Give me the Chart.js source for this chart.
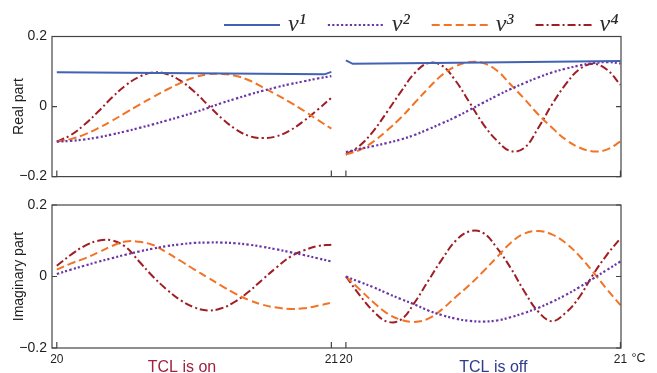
<!DOCTYPE html>
<html>
<head>
<meta charset="utf-8">
<script src="https://cdn.jsdelivr.net/npm/chart.js@4"></script>
<style>
  body { margin: 0; background: #fff; }
  .wrap { position: relative; width: 657px; height: 373px; }
  .row { position: absolute; left: 0; width: 657px; }
</style>
</head>
<body>
<div class="wrap">
  <div class="row" style="top:0;height:190px"><canvas id="realChart"></canvas></div>
  <div class="row" style="top:190px;height:183px"><canvas id="imagChart"></canvas></div>
</div>
<script>
// ---- data ----
const temps = [20.00, 20.05, 20.10, 20.15, 20.20, 20.25, 20.30, 20.35, 20.40, 20.45, 20.50,
               20.55, 20.60, 20.65, 20.70, 20.75, 20.80, 20.85, 20.90, 20.95, 21.00];

const seriesNames = ['v¹', 'v²', 'v³', 'v⁴'];
const panelNames = ['TCL is on', 'TCL is off'];
const rowTitles = ['Real part', 'Imaginary part'];
const yTicks = [-0.2, 0, 0.2];
const xTickTemps = [20, 21];

// real part, TCL on
const realOnV1T = [20, 20.5, 20.975, 21];
const realOnV1 = [0.098, 0.095, 0.092, 0.099];
const realOnV2 = [-0.100, -0.098, -0.094, -0.088, -0.080, -0.071, -0.061, -0.051, -0.040, -0.029, -0.017,
                  -0.004, 0.010, 0.022, 0.034, 0.045, 0.055, 0.064, 0.072, 0.080, 0.087];
const realOnV3 = [-0.100, -0.093, -0.080, -0.062, -0.041, -0.018, 0.005, 0.027, 0.048, 0.067, 0.083,
                  0.092, 0.093, 0.088, 0.075, 0.055, 0.034, 0.012, -0.012, -0.038, -0.063];
const realOnV4 = [-0.100, -0.082, -0.052, -0.015, 0.025, 0.060, 0.085, 0.097, 0.093, 0.074, 0.043,
                  0.005, -0.033, -0.064, -0.084, -0.090, -0.085, -0.068, -0.041, -0.009, 0.025];

// real part, TCL off
const realOffV1T = [20, 20.025, 20.5, 21];
const realOffV1 = [0.132, 0.122, 0.126, 0.130];
const realOffV2 = [-0.130, -0.121, -0.113, -0.104, -0.094, -0.081, -0.065, -0.048, -0.030, -0.010, 0.011,
                   0.031, 0.050, 0.067, 0.083, 0.097, 0.108, 0.117, 0.124, 0.127, 0.123];
const realOffV3 = [-0.137, -0.124, -0.100, -0.068, -0.032, 0.010, 0.052, 0.090, 0.115, 0.127, 0.124,
                   0.103, 0.063, 0.022, -0.022, -0.060, -0.094, -0.117, -0.128, -0.123, -0.100];
const realOffV4 = [-0.137, -0.112, -0.070, -0.015, 0.042, 0.095, 0.124, 0.117, 0.073, 0.012, -0.050,
                   -0.097, -0.127, -0.118, -0.062, 0.005, 0.063, 0.106, 0.122, 0.106, 0.062];

// imaginary part, TCL on
const imagOnV2 = [0.007, 0.019, 0.030, 0.041, 0.051, 0.061, 0.070, 0.078, 0.085, 0.090, 0.094,
                  0.095, 0.095, 0.093, 0.089, 0.083, 0.076, 0.068, 0.060, 0.051, 0.042];
const imagOnV3 = [0.019, 0.036, 0.050, 0.067, 0.085, 0.098, 0.097, 0.088, 0.067, 0.044, 0.020,
                  -0.003, -0.026, -0.048, -0.066, -0.079, -0.087, -0.091, -0.089, -0.082, -0.073];
const imagOnV4 = [0.030, 0.060, 0.085, 0.100, 0.101, 0.083, 0.042, 0.000, -0.036, -0.066, -0.086,
                  -0.095, -0.089, -0.070, -0.042, -0.008, 0.025, 0.055, 0.073, 0.085, 0.089];

// imaginary part, TCL off
const imagOffV2 = [0.000, -0.015, -0.030, -0.047, -0.063, -0.078, -0.095, -0.108, -0.118, -0.124, -0.126,
                   -0.123, -0.114, -0.102, -0.088, -0.071, -0.052, -0.030, -0.006, 0.018, 0.042];
const imagOffV3 = [0.000, -0.036, -0.072, -0.103, -0.121, -0.127, -0.118, -0.092, -0.057, -0.024, 0.014,
                   0.054, 0.094, 0.120, 0.127, 0.118, 0.094, 0.058, 0.013, -0.035, -0.080];
const imagOffV4 = [0.000, -0.052, -0.097, -0.126, -0.121, -0.073, -0.012, 0.048, 0.100, 0.126, 0.122,
                   0.080, 0.024, -0.042, -0.098, -0.125, -0.102, -0.058, 0.005, 0.060, 0.107];

// where the panel captions sit (temperature inside each panel)
const captionTemps = [20.456, 20.537];

// ---- layout ----
const OFF_SHIFT = 1.053;          // second panel starts a bit after the first one ends
const X_MIN = -0.0175;
const X_MAX = OFF_SHIFT + 1.002;
const AXIS_COLOR = '#444';
const TEXT_COLOR = '#1e1e1e';

const styles = [
  { color: '#4262b3', dash: [], width: 2, tension: 0 },
  { color: '#6a36a6', dash: [2.2, 2.2], width: 2.2, tension: 0.4 },
  { color: '#f37325', dash: [8, 4], width: 2, tension: 0.4 },
  { color: '#9f1d24', dash: [8, 3, 2, 3], width: 2, tension: 0.4 },
];

const xTickPositions = [...xTickTemps.map(t => t - 20), ...xTickTemps.map(t => t - 20 + OFF_SHIFT)];
const xTickLabels = [...xTickTemps, ...xTickTemps];

function joinPanels(tOn, vOn, tOff, vOff) {
  const pts = tOn.map((t, i) => ({ x: t - 20, y: vOn[i] }));
  pts.push({ x: 1 + (OFF_SHIFT - 1) / 2, y: null });
  tOff.forEach((t, i) => pts.push({ x: t - 20 + OFF_SHIFT, y: vOff[i] }));
  return pts;
}

function makeDataset(idx, points) {
  const s = styles[idx];
  return {
    label: seriesNames[idx],
    data: points,
    borderColor: s.color,
    backgroundColor: s.color,
    borderDash: s.dash,
    borderWidth: s.width,
    tension: s.tension,
    pointRadius: 0,
    fill: false,
    spanGaps: false
  };
}

// box around the plot area and inward tick marks
const framePlugin = {
  id: 'frame',
  afterDatasetsDraw(chart) {
    const { ctx, chartArea: a, scales: { x, y } } = chart;
    ctx.save();
    ctx.strokeStyle = AXIS_COLOR;
    ctx.lineWidth = 1.2;
    ctx.setLineDash([]);
    ctx.strokeRect(a.left, a.top, a.right - a.left, a.bottom - a.top);
    ctx.beginPath();
    x.ticks.forEach(t => {
      const px = x.getPixelForValue(t.value);
      ctx.moveTo(px, a.bottom);
      ctx.lineTo(px, a.bottom - 6);
    });
    y.ticks.forEach(t => {
      const py = y.getPixelForValue(t.value);
      ctx.moveTo(a.left, py);
      ctx.lineTo(a.left + 5, py);
      ctx.moveTo(a.right, py);
      ctx.lineTo(a.right - 5, py);
    });
    ctx.stroke();
    ctx.restore();
  }
};

// legend row above the top panel
const keyPlugin = {
  id: 'key',
  afterDraw(chart) {
    const ctx = chart.ctx;
    let x = 224;
    ctx.save();
    ctx.font = 'italic 24px "Liberation Serif", serif';
    ctx.textBaseline = 'alphabetic';
    chart.data.datasets.forEach(ds => {
      ctx.strokeStyle = ds.borderColor;
      ctx.lineWidth = ds.borderWidth;
      ctx.setLineDash(ds.borderDash);
      ctx.beginPath();
      ctx.moveTo(x, 25);
      ctx.lineTo(x + 56, 25);
      ctx.stroke();
      ctx.fillStyle = '#2a2a2a';
      ctx.fillText(ds.label, x + 64, 31);
      x += 64 + ctx.measureText(ds.label).width + 22;
    });
    ctx.restore();
  }
};

// panel captions and the unit under the bottom panel
const captionPlugin = {
  id: 'captions',
  afterDraw(chart) {
    const { ctx, scales: { x } } = chart;
    const colors = ['#a3203f', '#2d3c8e'];
    ctx.save();
    ctx.font = '16px "Liberation Sans", Arial, sans-serif';
    ctx.textAlign = 'center';
    ctx.textBaseline = 'alphabetic';
    captionTemps.forEach((t, i) => {
      ctx.fillStyle = colors[i];
      ctx.fillText(panelNames[i], x.getPixelForValue(t - 20 + i * OFF_SHIFT), 181.5);
    });
    const last = x.getPixelForValue(xTickPositions[xTickPositions.length - 1]);
    ctx.font = '12.5px "Liberation Sans", Arial, sans-serif';
    ctx.fillStyle = TEXT_COLOR;
    ctx.textAlign = 'left';
    ctx.textBaseline = 'top';
    ctx.fillText('°C', last + 11, x.top + 4);
    ctx.restore();
  }
};

function buildScales(title, showX, xHeight) {
  return {
    x: {
      type: 'linear',
      min: X_MIN,
      max: X_MAX,
      grid: { display: false, drawTicks: false },
      border: { display: false },
      afterBuildTicks: axis => { axis.ticks = xTickPositions.map(v => ({ value: v })); },
      ticks: {
        display: showX,
        autoSkip: false,
        maxRotation: 0,
        padding: 4,
        color: TEXT_COLOR,
        font: { family: '"Liberation Sans", Arial, sans-serif', size: 12 },
        callback: (v, i) => String(xTickLabels[i])
      },
      afterFit: s => { s.height = xHeight; }
    },
    y: {
      min: -0.2,
      max: 0.2,
      grid: { display: false, drawTicks: false },
      border: { display: false },
      afterBuildTicks: axis => { axis.ticks = yTicks.map(v => ({ value: v })); },
      ticks: {
        padding: 5,
        color: TEXT_COLOR,
        font: { family: '"Liberation Sans", Arial, sans-serif', size: 14 },
        callback: v => v === 0 ? '0' : v.toFixed(1).replace('-', '\u2212')
      },
      title: {
        display: true,
        text: title,
        color: TEXT_COLOR,
        font: { family: '"Liberation Sans", Arial, sans-serif', size: 14 },
        padding: { top: 11, bottom: 0 }
      },
      afterFit: s => { s.width = 52; }
    }
  };
}

const realChart = new Chart(document.getElementById('realChart'), {
  type: 'line',
  data: {
    datasets: [
      makeDataset(0, joinPanels(realOnV1T, realOnV1, realOffV1T, realOffV1)),
      makeDataset(1, joinPanels(temps, realOnV2, temps, realOffV2)),
      makeDataset(2, joinPanels(temps, realOnV3, temps, realOffV3)),
      makeDataset(3, joinPanels(temps, realOnV4, temps, realOffV4))
    ]
  },
  options: {
    responsive: true,
    maintainAspectRatio: false,
    animation: false,
    layout: { padding: { top: 36.5, right: 36, bottom: 0, left: 0 } },
    plugins: { legend: { display: false }, tooltip: { enabled: false } },
    scales: buildScales(rowTitles[0], false, 9.5)
  },
  plugins: [framePlugin, keyPlugin]
});

const imagChart = new Chart(document.getElementById('imagChart'), {
  type: 'line',
  data: {
    datasets: [
      makeDataset(1, joinPanels(temps, imagOnV2, temps, imagOffV2)),
      makeDataset(2, joinPanels(temps, imagOnV3, temps, imagOffV3)),
      makeDataset(3, joinPanels(temps, imagOnV4, temps, imagOffV4))
    ]
  },
  options: {
    responsive: true,
    maintainAspectRatio: false,
    animation: false,
    layout: { padding: { top: 15, right: 36, bottom: 0, left: 0 } },
    plugins: { legend: { display: false }, tooltip: { enabled: false } },
    scales: buildScales(rowTitles[1], true, 25)
  },
  plugins: [framePlugin, captionPlugin]
});
</script>
</body>
</html>
